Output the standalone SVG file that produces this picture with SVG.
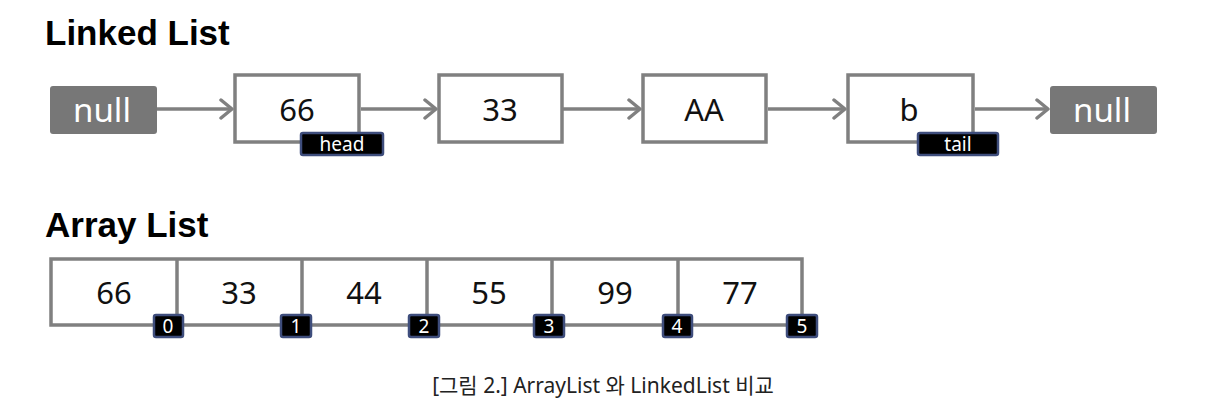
<svg xmlns="http://www.w3.org/2000/svg" width="1212" height="412" viewBox="0 0 1212 412">
<style>
.title{font-family:"Liberation Sans","Noto Sans",sans-serif;font-weight:bold;font-size:35px;fill:#000}
.val{font-family:"Noto Sans","Liberation Sans",sans-serif;font-size:31px;fill:#111;text-anchor:middle}
.nul{font-family:"Noto Sans","Liberation Sans",sans-serif;font-size:33px;fill:#fff;text-anchor:middle}
.node{fill:#fff;stroke:#808080;stroke-width:3.5}
.nbox{fill:#777;rx:3}
.tag{fill:#000;stroke:#3e4d7c;stroke-width:2.5}
.tagt{font-family:"Noto Sans","Liberation Sans",sans-serif;font-size:19px;fill:#fff;text-anchor:middle}
.idxt{font-family:"Noto Sans","Liberation Sans",sans-serif;font-size:19px;fill:#fff;text-anchor:middle}
.conn{stroke:#808080;stroke-width:3.5;fill:none}
.cap{font-family:"Noto Sans","Noto Sans CJK KR",sans-serif;font-size:21px;fill:#222;text-anchor:middle}
</style>
<defs>
<marker id="arr" markerWidth="16" markerHeight="22" refX="13" refY="11" orient="auto" markerUnits="userSpaceOnUse">
<path d="M2,2 L13,11 L2,20" fill="none" stroke="#808080" stroke-width="3.5" stroke-linecap="round" stroke-linejoin="round"/>
</marker>
</defs>
<rect width="1212" height="412" fill="#fff"/>
<text class="title" x="45" y="45">Linked List</text>

<g id="connectors">
<line class="conn" x1="157" y1="109" x2="232" y2="109" marker-end="url(#arr)"/>
<line class="conn" x1="361" y1="109" x2="436" y2="109" marker-end="url(#arr)"/>
<line class="conn" x1="563" y1="109" x2="640" y2="109" marker-end="url(#arr)"/>
<line class="conn" x1="768" y1="109" x2="845" y2="109" marker-end="url(#arr)"/>
<line class="conn" x1="975" y1="109" x2="1048" y2="109" marker-end="url(#arr)"/>
</g>

<g id="null-left">
<rect class="nbox" x="50" y="86" width="107" height="48"/>
<text class="nul" x="102" y="122">null</text>
</g>
<g id="node-66">
<rect class="node" x="235" y="75" width="124" height="67"/>
<text class="val" x="297" y="121">66</text>
<rect class="tag" x="301" y="133" width="82" height="22" rx="2"/>
<text class="tagt" x="342" y="151">head</text>
</g>
<g id="node-33">
<rect class="node" x="439" y="75" width="123" height="67"/>
<text class="val" x="500" y="121">33</text>
</g>
<g id="node-AA">
<rect class="node" x="643" y="75" width="123" height="67"/>
<text class="val" x="704" y="121">AA</text>
</g>
<g id="node-b">
<rect class="node" x="848" y="75" width="125" height="67"/>
<text class="val" x="909" y="121">b</text>
<rect class="tag" x="918" y="133" width="80" height="22" rx="2"/>
<text class="tagt" x="958" y="151">tail</text>
</g>
<g id="null-right">
<rect class="nbox" x="1050" y="86" width="107" height="48"/>
<text class="nul" x="1102" y="122">null</text>
</g>

<text class="title" x="45" y="237">Array List</text>
<g id="array">
<rect class="node" x="51" y="259" width="751" height="66"/>
<line class="conn" x1="177" y1="259" x2="177" y2="325"/>
<line class="conn" x1="302" y1="259" x2="302" y2="325"/>
<line class="conn" x1="427" y1="259" x2="427" y2="325"/>
<line class="conn" x1="552" y1="259" x2="552" y2="325"/>
<line class="conn" x1="678" y1="259" x2="678" y2="325"/>
<text class="val" x="114" y="304">66</text>
<text class="val" x="239" y="304">33</text>
<text class="val" x="364" y="304">44</text>
<text class="val" x="489" y="304">55</text>
<text class="val" x="615" y="304">99</text>
<text class="val" x="740" y="304">77</text>
</g>
<g id="indices">
<rect class="tag" x="154" y="315" width="29" height="22" rx="2"/><text class="idxt" x="168" y="333">0</text>
<rect class="tag" x="281" y="315" width="30" height="22" rx="2"/><text class="idxt" x="296" y="333">1</text>
<rect class="tag" x="409" y="315" width="30" height="22" rx="2"/><text class="idxt" x="424" y="333">2</text>
<rect class="tag" x="534" y="315" width="30" height="22" rx="2"/><text class="idxt" x="549" y="333">3</text>
<rect class="tag" x="663" y="315" width="29" height="22" rx="2"/><text class="idxt" x="677" y="333">4</text>
<rect class="tag" x="787" y="315" width="30" height="22" rx="2"/><text class="idxt" x="802" y="333">5</text>
</g>

<text class="cap" x="603" y="393">[그림 2.] ArrayList 와 LinkedList 비교</text>
</svg>
